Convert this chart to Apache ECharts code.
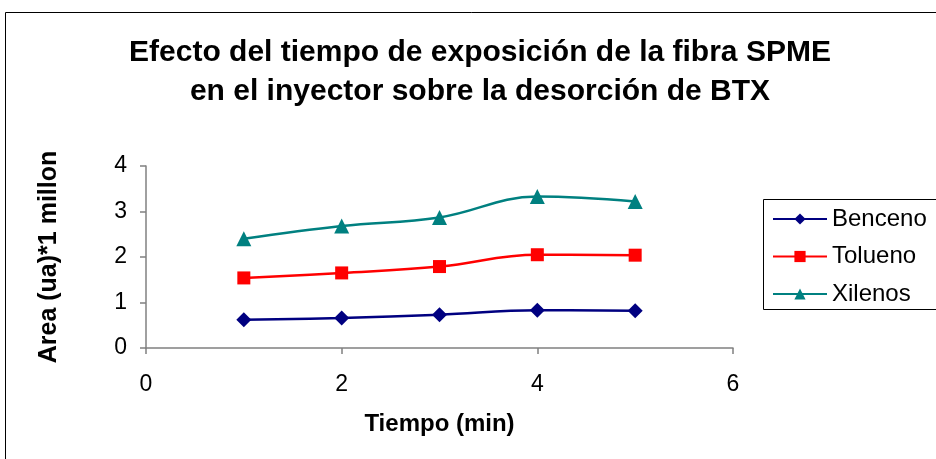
<!DOCTYPE html>
<html>
<head>
<meta charset="utf-8">
<script src="https://cdn.jsdelivr.net/npm/echarts@6/dist/echarts.min.js"></script>
<style>
  html, body { margin: 0; padding: 0; background: #fff; }
  #chart { width: 936px; height: 459px; }
</style>
</head>
<body>
<div id="chart"></div>
<script>
// Exposure time of the SPME fibre in the injector (min)
const tiempos = [1, 2, 3, 4, 5];
// Peak areas (ua × 1 millón)
const benceno = [0.62, 0.66, 0.73, 0.83, 0.82];
const tolueno = [1.54, 1.65, 1.79, 2.05, 2.04];
const xilenos = [2.40, 2.68, 2.87, 3.33, 3.22];

const xTicks = [0, 2, 4, 6];
const yTicks = [0, 1, 2, 3, 4];

const font = '"Liberation Sans", Arial, sans-serif';

function pairs(values) {
  return tiempos.map((t, i) => [t, values[i]]);
}

function serie(name, values, color, symbol, size) {
  return {
    name: name,
    type: 'line',
    data: pairs(values),
    smooth: 0.4,
    symbol: symbol,
    symbolSize: size,
    lineStyle: { color: color, width: 2.5 },
    itemStyle: { color: color },
    emphasis: { disabled: true }
  };
}

const chart = echarts.init(document.getElementById('chart'));
chart.setOption({
  animation: false,
  backgroundColor: '#fff',
  title: {
    text: 'Efecto del tiempo de exposición de la fibra SPME\nen el inyector sobre la desorción de BTX',
    left: 475,
    top: 28,
    textAlign: 'center',
    textStyle: { fontFamily: font, fontSize: 30, fontWeight: 'bold', color: '#000', lineHeight: 39 }
  },
  graphic: [
    { type: 'rect', shape: { x: 5.5, y: 12.5, width: 940, height: 460 },
      style: { fill: 'none', stroke: '#000', lineWidth: 1 }, silent: true },
    { type: 'rect', shape: { x: 763.5, y: 199.5, width: 180, height: 110 },
      style: { fill: 'none', stroke: '#000', lineWidth: 1 }, silent: true }
  ],
  legend: {
    left: 767,
    top: 202,
    orient: 'vertical',
    itemGap: 13.5,
    itemWidth: 54,
    itemHeight: 14,
    textStyle: { fontFamily: font, fontSize: 24, color: '#000' },
    data: ['Benceno', 'Tolueno', 'Xilenos']
  },
  grid: { left: 146, right: 203, top: 166, bottom: 111 },
  xAxis: {
    type: 'value',
    min: xTicks[0],
    max: xTicks[xTicks.length - 1],
    interval: 2,
    name: 'Tiempo (min)',
    nameLocation: 'middle',
    nameGap: 64,
    nameTextStyle: { fontFamily: font, fontSize: 24, fontWeight: 'bold', color: '#000' },
    axisLine: { lineStyle: { color: '#808080', width: 1.5 } },
    axisTick: { show: true, length: 6, lineStyle: { color: '#808080', width: 1.5 } },
    axisLabel: { fontFamily: font, fontSize: 23, color: '#000', margin: 25 },
    splitLine: { show: false }
  },
  yAxis: {
    type: 'value',
    min: yTicks[0],
    max: yTicks[yTicks.length - 1],
    interval: 1,
    name: 'Area (ua)*1 millon',
    nameLocation: 'middle',
    nameGap: 84,
    nameRotate: 90,
    nameTextStyle: { fontFamily: font, fontSize: 25, fontWeight: 'bold', color: '#000' },
    axisLine: { show: true, lineStyle: { color: '#808080', width: 1.5 } },
    axisTick: { show: true, length: 6, lineStyle: { color: '#808080', width: 1.5 } },
    axisLabel: { fontFamily: font, fontSize: 23, color: '#000', margin: 19 },
    splitLine: { show: false }
  },
  series: [
    serie('Benceno', benceno, '#000080', 'diamond', 15),
    serie('Tolueno', tolueno, '#ff0000', 'rect', 13),
    serie('Xilenos', xilenos, '#008080', 'triangle', 15)
  ]
});
</script>
</body>
</html>
